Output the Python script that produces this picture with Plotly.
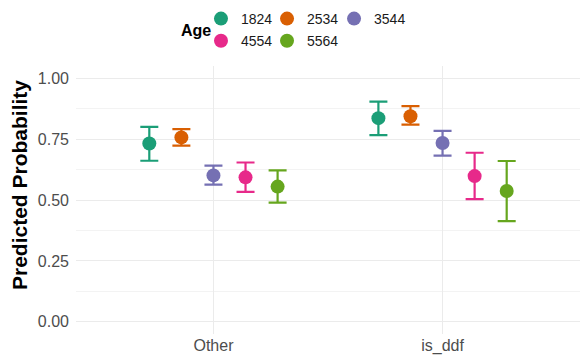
import plotly.graph_objects as go

# Predicted probabilities with confidence intervals by group and age band
groups = ["Other", "is_ddf"]
ages = ["1824", "2534", "3544", "4554", "5564"]
colors = ["#1B9E77", "#D95F02", "#7570B3", "#E7298A", "#66A61E"]

prob = {
    "1824": [0.732, 0.836],
    "2534": [0.757, 0.844],
    "3544": [0.601, 0.734],
    "4554": [0.593, 0.598],
    "5564": [0.555, 0.537],
}
lower = {
    "1824": [0.661, 0.766],
    "2534": [0.723, 0.809],
    "3544": [0.563, 0.682],
    "4554": [0.533, 0.504],
    "5564": [0.489, 0.413],
}
upper = {
    "1824": [0.800, 0.904],
    "2534": [0.791, 0.885],
    "3544": [0.641, 0.784],
    "4554": [0.654, 0.694],
    "5564": [0.622, 0.660],
}

FONT = "Liberation Sans, Arial, Helvetica, sans-serif"

# legend laid out in three columns: (1824, 4554), (2534, 5564), (3544)
legend_of = ["legend", "legend2", "legend3", "legend", "legend2"]

fig = go.Figure()
for age, col, lg in zip(ages, colors, legend_of):
    p = prob[age]
    fig.add_trace(go.Scatter(
        x=groups, y=p, name=age, mode="markers",
        offsetgroup=age, legendgroup=age,
        marker=dict(color=col, size=14, line=dict(width=0)),
        error_y=dict(type="data", symmetric=False,
                     array=[u - v for u, v in zip(upper[age], p)],
                     arrayminus=[v - l for v, l in zip(p, lower[age])],
                     color=col, thickness=2.2, width=9),
        legend=lg,
        showlegend=True,
    ))

legend_common = dict(
    orientation="v", xanchor="left", yanchor="top", y=1.235,
    font=dict(family=FONT, size=14, color="#1a1a1a"),
    bgcolor="rgba(0,0,0,0)", itemsizing="trace",
    tracegroupgap=1, traceorder="grouped",
)

fig.update_layout(
    width=580, height=356,
    margin=dict(l=76, r=0, t=66, b=22),
    paper_bgcolor="white", plot_bgcolor="white",
    scattermode="group", scattergap=0.3,
    showlegend=True,
    legend=dict(x=0.248, **legend_common),
    legend2=dict(x=0.379, **legend_common),
    legend3=dict(x=0.512, **legend_common),
    annotations=[
        dict(text="<b>Age</b>", x=0.238, y=1.131, xref="paper", yref="paper",
             showarrow=False, xanchor="center", yanchor="middle",
             font=dict(family=FONT, size=16, color="black")),
        dict(text="<b>Predicted Probability</b>", x=-0.111, y=0.556,
             xref="paper", yref="paper", textangle=-90,
             showarrow=False, xanchor="center", yanchor="middle",
             font=dict(family=FONT, size=21, color="black")),
    ],
    xaxis=dict(
        type="category", range=[-0.6, 1.6], automargin=False,
        showgrid=True, gridcolor="#ebebeb", gridwidth=1,
        zeroline=False, showline=False, ticks="",
        tickfont=dict(family=FONT, size=16, color="#4d4d4d"),
        ticklabelstandoff=0,
    ),
    yaxis=dict(
        range=[-0.05, 1.05], automargin=False,
        tickvals=[0, 0.25, 0.5, 0.75, 1.0],
        ticktext=["0.00", "0.25", "0.50", "0.75", "1.00"],
        showgrid=True, gridcolor="#ebebeb", gridwidth=1,
        minor=dict(dtick=0.125, tick0=0, showgrid=True, gridcolor="#f3f3f3", gridwidth=0.8),
        zeroline=False, showline=False, ticks="",
        tickfont=dict(family=FONT, size=16, color="#4d4d4d"),
        ticklabelstandoff=6,
    ),
)

fig.write_html("out.html")
